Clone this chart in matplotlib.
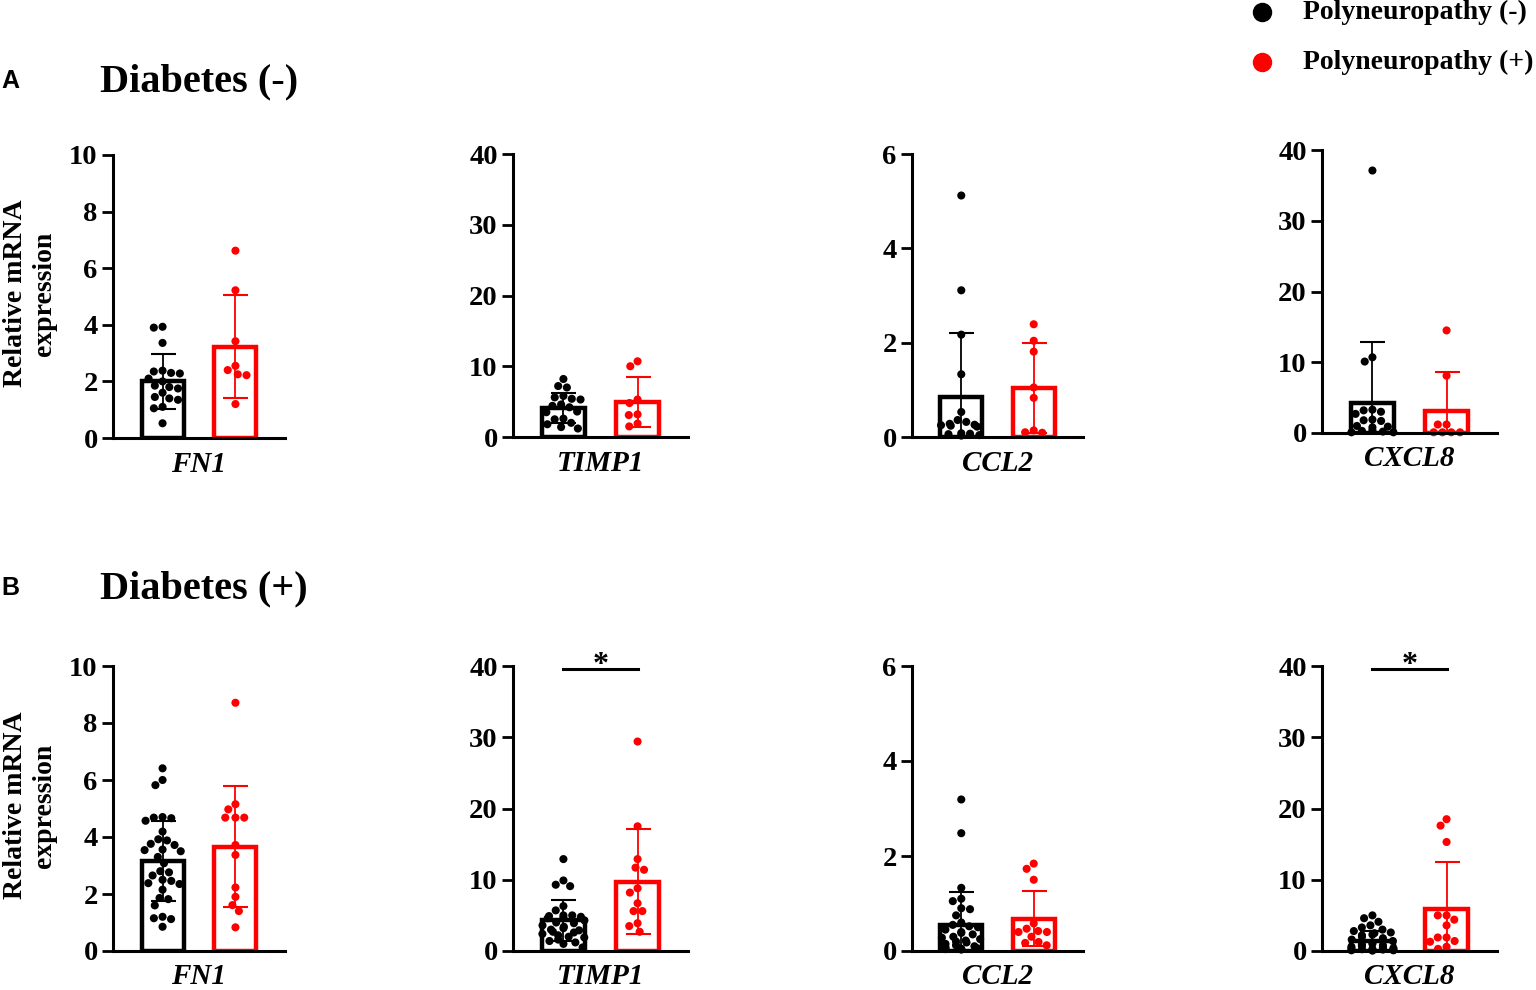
import numpy as np
import matplotlib
matplotlib.use("Agg")
import matplotlib.pyplot as plt
from matplotlib.lines import Line2D

# ---------------- data ----------------
genes = ["FN1", "TIMP1", "CCL2", "CXCL8"]
y_max = [10, 40, 6, 40]
y_step = [2, 10, 2, 10]
groups = ["Polyneuropathy (-)", "Polyneuropathy (+)"]
rows = ["Diabetes (-)", "Diabetes (+)"]
row_letters = ["A", "B"]

# Diabetes (-)
a_fn1_neg = [3.93, 3.9, 3.36, 2.35, 2.38, 2.3, 2.28, 2.1, 2.0, 1.85, 1.8, 1.75, 1.6, 1.45, 1.4, 1.35, 1.1, 1.05, 0.52]
a_fn1_pos = [6.62, 5.22, 3.42, 2.4, 2.55, 2.22, 2.25, 1.2]
a_timp1_neg = [8.2, 7.2, 7.0, 5.8, 5.6, 5.4, 5.3, 4.6, 4.4, 4.2, 3.6, 3.5, 2.6, 2.5, 2.0, 1.8, 1.4, 1.2]
a_timp1_pos = [10.7, 10.0, 5.3, 4.8, 3.2, 3.1, 1.9, 1.5]
a_ccl2_neg = [5.12, 3.11, 2.17, 1.33, 0.53, 0.36, 0.32, 0.28, 0.26, 0.25, 0.24, 0.22, 0.08, 0.07, 0.06, 0.04, 0.03]
a_ccl2_pos = [2.39, 2.04, 1.81, 1.05, 0.83, 0.14, 0.09, 0.1]
a_cxcl8_neg = [37.1, 10.7, 10.1, 3.3, 3.2, 3.0, 2.7, 1.9, 1.8, 1.7, 1.0, 0.9, 0.8, 0.4, 0.3, 0.2, 0.1, 0.1]
a_cxcl8_pos = [14.5, 8.1, 1.2, 1.2, 0.1, 0.1, 0.1, 0.1]
a_mean_neg = [2.0, 4.1, 0.85, 4.27]
a_sd_neg = [0.96, 2.1, 1.35, 8.57]
a_mean_pos = [3.22, 4.95, 1.04, 3.1]
a_sd_pos = [1.82, 3.55, 0.96, 5.5]
a_sig = ["", "", "", ""]

# Diabetes (+)
b_fn1_neg = [6.41, 6.0, 5.82, 4.7, 4.68, 4.66, 4.57, 4.19, 3.92, 3.88, 3.76, 3.72, 3.56, 3.54, 3.5, 3.3,
             3.08, 2.8, 2.76, 2.65, 2.5, 2.46, 2.38, 2.35, 2.15, 1.86, 1.82, 1.6, 1.2, 1.15, 1.12, 0.85]
b_fn1_pos = [8.71, 5.15, 4.97, 4.68, 4.68, 4.68, 3.72, 3.37, 2.23, 1.9, 1.61, 1.4, 0.83]
b_timp1_neg = [12.9, 9.9, 9.3, 9.1, 6.3, 5.7, 5.0, 5.0, 4.9, 4.8, 4.7, 4.6, 4.3, 4.0, 3.9, 3.6, 3.4, 3.2,
               3.0, 2.9, 2.7, 2.6, 2.4, 2.2, 2.0, 1.9, 1.6, 1.4, 1.2, 1.0, 0.5]
b_timp1_pos = [29.4, 17.5, 12.9, 11.7, 11.4, 8.8, 8.2, 6.7, 5.6, 5.6, 3.9, 3.5, 2.7]
b_ccl2_neg = [3.19, 2.48, 1.33, 1.1, 1.05, 0.9, 0.88, 0.75, 0.6, 0.55, 0.52, 0.5, 0.45, 0.4, 0.38, 0.35,
              0.3, 0.28, 0.25, 0.22, 0.2, 0.18, 0.15, 0.12, 0.1, 0.08, 0.06, 0.05, 0.04, 0.03]
b_ccl2_pos = [1.84, 1.73, 1.5, 0.58, 0.47, 0.42, 0.4, 0.4, 0.3, 0.19, 0.17, 0.12]
b_cxcl8_neg = [5.0, 4.6, 4.1, 3.6, 3.3, 3.0, 2.8, 2.6, 2.5, 2.3, 2.2, 2.0, 1.8, 1.6, 1.4, 1.2, 1.0, 0.9,
               0.8, 0.7, 0.6, 0.5, 0.4, 0.35, 0.3, 0.25, 0.2, 0.15, 0.1, 0.1, 0.05]
b_cxcl8_pos = [18.5, 17.6, 15.3, 5.0, 5.0, 4.4, 3.6, 1.9, 1.9, 1.4, 1.3, 0.6, 0.3]
b_mean_neg = [3.16, 4.32, 0.55, 1.41]
b_sd_neg = [1.4, 2.9, 0.69, 1.36]
b_mean_pos = [3.66, 9.75, 0.68, 5.96]
b_sd_pos = [2.12, 7.35, 0.58, 6.5]
b_sig = ["", "*", "", "*"]

row_points = [
    [(a_fn1_neg, a_fn1_pos), (a_timp1_neg, a_timp1_pos), (a_ccl2_neg, a_ccl2_pos), (a_cxcl8_neg, a_cxcl8_pos)],
    [(b_fn1_neg, b_fn1_pos), (b_timp1_neg, b_timp1_pos), (b_ccl2_neg, b_ccl2_pos), (b_cxcl8_neg, b_cxcl8_pos)],
]
row_means = [(a_mean_neg, a_mean_pos), (b_mean_neg, b_mean_pos)]
row_sds = [(a_sd_neg, a_sd_pos), (b_sd_neg, b_sd_pos)]
row_sigs = [a_sig, b_sig]

# ---------------- style / layout ----------------
W, H = 1536, 990
SERIF = "Liberation Serif"
SANS = "Liberation Sans"
colors = ["black", "#ff0000"]

# axes boxes in pixels: (left, right, top, bottom)
boxes = [
    [(113, 285, 155, 438), (513, 688, 154, 437), (912, 1083, 154, 437), (1322, 1497, 150, 433)],
    [(113, 285, 666, 951), (513, 688, 666, 951), (912, 1083, 666, 951), (1322, 1497, 666, 951)],
]

fig = plt.figure(figsize=(W / 100, H / 100), dpi=100)


def swarm_offsets(ax, xc, vals, d, maxw):
    """Simple beeswarm in pixel space; returns data x-positions."""
    trans = ax.transData
    pts = trans.transform(np.column_stack([np.full(len(vals), xc), vals]))
    ys = pts[:, 1]
    px_per_unit = trans.transform((1, 0))[0] - trans.transform((0, 0))[0]
    order = np.argsort(-np.asarray(vals))
    placed = []
    xs = np.zeros(len(vals))
    for i in order:
        y = ys[i]
        intervals = []
        for (xj, yj) in placed:
            dy = abs(y - yj)
            if dy < d:
                w = np.sqrt(d * d - dy * dy)
                intervals.append((xj - w, xj + w))
        cands = [0.0] + [a for a, b in intervals] + [b for a, b in intervals]
        valid = [c for c in cands if all(not (a + 1e-6 < c < b - 1e-6) for a, b in intervals)]
        valid.sort(key=lambda c: (abs(c), c))
        chosen = None
        for c in valid:
            if abs(c) <= maxw:
                chosen = c
                break
        if chosen is None:
            grid = np.linspace(-maxw, maxw, 9)
            best, bestcount = 0.0, 1e9
            for g in grid:
                cnt = sum(1 for (xj, yj) in placed if np.hypot(g - xj, y - yj) < d)
                if cnt < bestcount or (cnt == bestcount and abs(g) < abs(best)):
                    best, bestcount = g, cnt
            chosen = best
        placed.append((chosen, y))
        xs[i] = chosen
    return xc + xs / px_per_unit


bar_w = 0.575
for r in range(2):
    for c in range(4):
        l, rr, t, b = boxes[r][c]
        ax = fig.add_axes([l / W, 1 - b / H, (rr - l) / W, (b - t) / H])
        ax.set_xlim(-0.68, 1.68)
        ax.set_ylim(0, y_max[c])
        ax.set_yticks(np.arange(0, y_max[c] + 0.001, y_step[c]))
        ax.set_xticks([0.5])
        ax.set_xticklabels([genes[c]], fontfamily=SERIF, fontweight="bold", fontstyle="italic", fontsize=21)
        ax.tick_params(axis="x", length=0, pad=9)
        ax.tick_params(axis="y", length=8, width=2, pad=3, labelsize=20.5)
        for lab in ax.get_yticklabels():
            lab.set_fontfamily(SERIF)
            lab.set_fontweight("bold")
        for s in ["top", "right"]:
            ax.spines[s].set_visible(False)
        for s in ["left", "bottom"]:
            ax.spines[s].set_linewidth(2.2)
            ax.spines[s].set_zorder(5)
        ax.patch.set_alpha(0)

        for g in range(2):
            vals = row_points[r][c][g]
            mean = row_means[r][g][c]
            sd = row_sds[r][g][c]
            col = colors[g]
            ax.bar([g], [mean], width=bar_w, facecolor="white", edgecolor=col, linewidth=3.2, zorder=2)
            xs = swarm_offsets(ax, g, vals, d=8.8, maxw=21)
            ax.scatter(xs, vals, s=34, color=col, edgecolors="none", zorder=3, clip_on=False)
            ax.errorbar([g], [mean], yerr=[sd], fmt="none", ecolor=col, elinewidth=1.3,
                        capsize=9, capthick=1.5, zorder=4)

        sig = row_sigs[r][c]
        if sig:
            ys = y_max[c] * 0.99
            ax.plot([0, 1], [ys, ys], color="black", lw=2.2, clip_on=False, zorder=6)
            ax.annotate(sig, xy=(0.5, ys), xytext=(0, -8), textcoords="offset points",
                        ha="center", va="bottom", fontsize=23, fontfamily=SERIF,
                        fontweight="bold", annotation_clip=False)

    # y label for the row
    t0 = boxes[r][0][2]
    b0 = boxes[r][0][3]
    fig.text(30 / W, 1 - ((t0 + b0) / 2 - 3) / H, "Relative mRNA\nexpression", rotation=90,
             ha="center", va="center", multialignment="center", fontsize=20,
             fontfamily=SERIF, fontweight="bold", linespacing=1.2)

# row headers
header_y = [81, 588]
for r in range(2):
    fig.text(1 / W, 1 - header_y[r] / H, row_letters[r], ha="left", va="center",
             fontsize=18, fontfamily=SANS, fontweight="bold")
    fig.text(100 / W, 1 - (header_y[r] + 1) / H, rows[r], ha="left", va="center",
             fontsize=29, fontfamily=SERIF, fontweight="bold")

# legend
leg_y = [12, 62]
for g in range(2):
    fig.add_artist(Line2D([1262 / W], [1 - leg_y[g] / H], marker="o", markersize=13,
                          color=colors[g], linestyle="none", transform=fig.transFigure))
    fig.text(1303 / W, 1 - leg_y[g] / H, groups[g], ha="left", va="center",
             fontsize=20, fontfamily=SERIF, fontweight="bold")

fig.savefig("out.png", dpi=100)
